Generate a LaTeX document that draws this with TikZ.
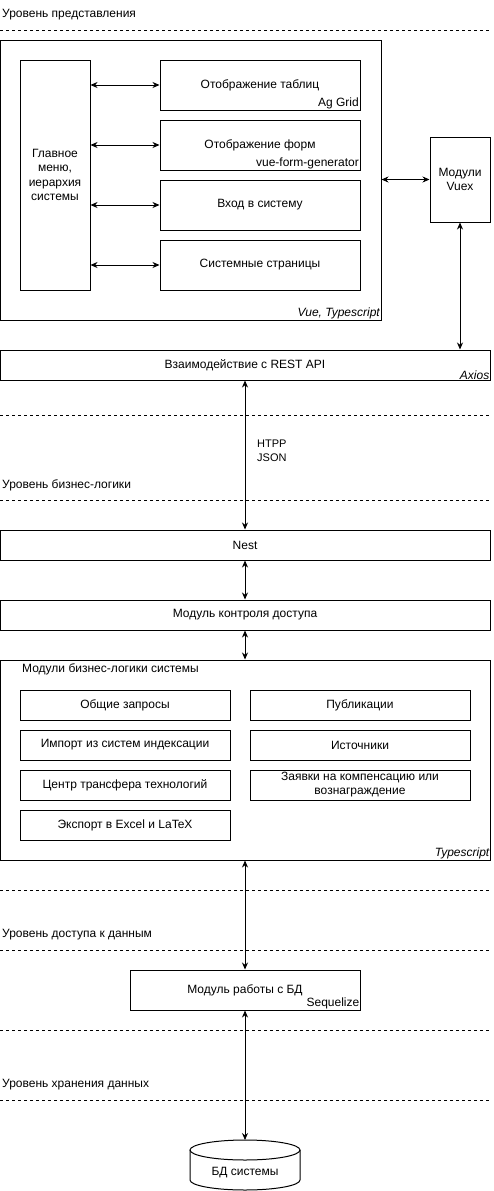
\documentclass[tikz,border=0pt]{standalone}
\usepackage{fontspec}
\setmainfont{Liberation Sans}
\usetikzlibrary{arrows.meta}

\begin{document}
\begin{tikzpicture}[x=1pt, y=-1pt, font=\fontsize{12}{14.5}\selectfont,
  box/.style={draw, line width=1pt, inner sep=0pt, align=center},
  layer/.style={anchor=west, inner sep=0pt},
  sub/.style={anchor=south east, inner sep=1.5pt},
  biarrow/.style={{Stealth[length=7pt,width=6pt]}-{Stealth[length=7pt,width=6pt]}, line width=0.8pt},
  sep/.style={dashed, line width=0.6pt}]

\useasboundingbox (0,0) rectangle (494,1191);

\node[layer] (lpres) at (2,15) {Уровень представления};
\draw[sep] (0,30) -- (490,30);

\node[box, minimum width=381pt, minimum height=280pt] (front) at (190.5,180) {};
\node[box, minimum width=70pt, minimum height=230pt] (menu) at (55,175) {Главное\\меню,\\иерархия\\системы};
\node[box, minimum width=200pt, minimum height=50pt] (tables) at (260,85) {Отображение таблиц};
\node[box, minimum width=200pt, minimum height=50pt] (forms) at (260,145) {Отображение форм};
\node[box, minimum width=200pt, minimum height=50pt] (login) at (260,205) {Вход в систему};
\node[box, minimum width=200pt, minimum height=50pt] (pages) at (260,265) {Системные страницы};
\node[sub] (aggrid) at (tables.south east) {Ag Grid};
\node[sub] (vfg) at (forms.south east) {vue-form-generator};
\node[sub, font=\fontsize{12}{14.5}\selectfont\itshape] (vuets) at (front.south east) {Vue, Typescript};

\draw[biarrow] (menu.east |- tables.west) -- (tables.west);
\draw[biarrow] (menu.east |- forms.west) -- (forms.west);
\draw[biarrow] (menu.east |- login.west) -- (login.west);
\draw[biarrow] (menu.east |- pages.west) -- (pages.west);

\node[box, minimum width=60pt, minimum height=85pt] (vuex) at (460,179.5) {Модули\\Vuex};
\draw[biarrow] (front.east |- vuex.west) -- (vuex.west);

\node[box, minimum width=490pt, minimum height=30pt] (rest) at (245,365) {Взаимодействие с REST API};
\node[sub, font=\fontsize{12}{14.5}\selectfont\itshape, inner sep=1pt] (axios) at (rest.south east) {Axios};
\draw[biarrow] (vuex.south) -- (vuex.south |- rest.north);

\draw[sep] (0,415) -- (490,415);
\node[layer] (lbiz) at (2,485) {Уровень бизнес-логики};
\draw[sep] (0,500) -- (490,500);

\node[box, minimum width=490pt, minimum height=30pt] (nest) at (245,545) {Nest};
\draw[biarrow] (rest.south) -- (nest.north);
\node[anchor=west, align=left, inner sep=0pt, font=\fontsize{11}{14}\selectfont] (proto) at (257,451) {HTPP\\JSON};

\node[box, minimum width=490pt, minimum height=30pt] (access) at (245,615) {Модуль контроля доступа};
\draw[biarrow] (nest.south) -- (access.north);

\node[box, minimum width=490pt, minimum height=200pt] (biz) at (245,760) {};
\draw[biarrow] (access.south) -- (biz.north);
\node[layer] (biztitle) at (22,669) {Модули бизнес-логики системы};
\node[sub, font=\fontsize{12}{14.5}\selectfont\itshape, inner sep=1pt] (bizts) at (biz.south east) {Typescript};

\node[box, minimum width=210pt, minimum height=30pt] (common) at (125,705) {Общие запросы};
\node[box, minimum width=210pt, minimum height=30pt] (import) at (125,745) {Импорт из систем индексации};
\node[box, minimum width=210pt, minimum height=30pt] (transfer) at (125,785) {Центр трансфера технологий};
\node[box, minimum width=210pt, minimum height=30pt] (export) at (125,825) {Экспорт в Excel и LaTeX};
\node[box, minimum width=220pt, minimum height=30pt] (pubs) at (360,705) {Публикации};
\node[box, minimum width=220pt, minimum height=30pt] (sources) at (360,745) {Источники};
\node[box, minimum width=220pt, minimum height=30pt, font=\fontsize{12}{14}\selectfont] (claims) at (360,785) {Заявки на компенсацию или\\вознаграждение};

\draw[sep] (0,890) -- (490,890);
\node[layer] (ldata) at (2,935) {Уровень доступа к данным};
\draw[sep] (0,950) -- (490,950);

\node[box, minimum width=230pt, minimum height=40pt] (dbmod) at (245,990) {Модуль работы с БД};
\node[sub, inner sep=1pt] (sequelize) at (dbmod.south east) {Sequelize};
\draw[biarrow] (biz.south) -- (dbmod.north);

\draw[sep] (0,1030) -- (490,1030);
\node[layer] (lstore) at (2,1085) {Уровень хранения данных};
\draw[sep] (0,1100) -- (490,1100);

\draw[line width=1pt] (190,1150) -- (190,1180) arc[start angle=180, end angle=360, x radius=55pt, y radius=10pt] -- (300,1150);
\draw[line width=1pt] (245,1150) ellipse[x radius=55pt, y radius=10pt];
\coordinate (dbtop) at (245,1140);
\node (db) at (245,1173) {БД системы};
\draw[biarrow] (dbmod.south) -- (dbtop);

\end{tikzpicture}
\end{document}
